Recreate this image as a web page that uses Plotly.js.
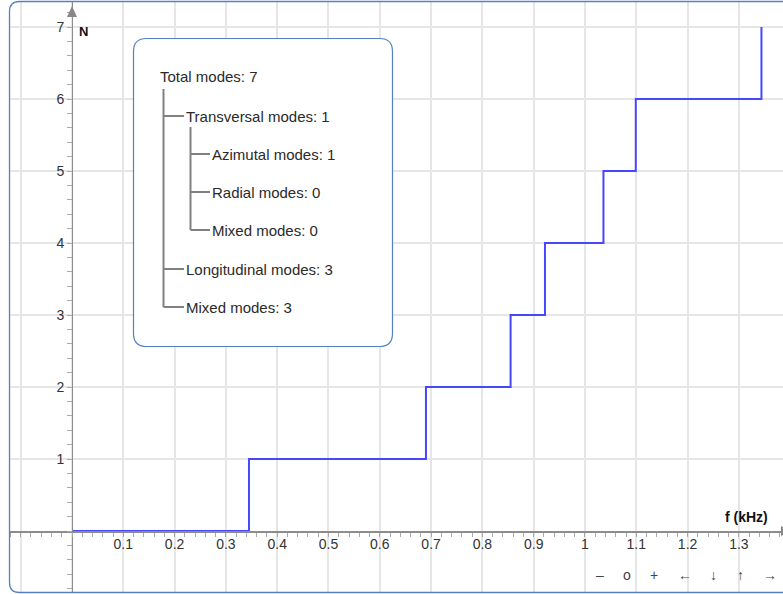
<!DOCTYPE html>
<html>
<head>
<meta charset="utf-8">
<script src="https://cdn.plot.ly/plotly-3.0.1.min.js"></script>
<style>html,body{margin:0;padding:0;background:#fff;}#chart{width:783px;height:594px;}</style>
</head>
<body>
<div id="chart"></div>
<script>
// ---- data ----
const freqSteps = [0, 0.345, 0.690, 0.855, 0.922, 1.036, 1.099, 1.344]; // f (kHz) where N steps
const modeCount = [0, 1, 2, 3, 4, 5, 6, 7];                            // N
const xTickVals = [-0.1, 0, 0.1, 0.2, 0.3, 0.4, 0.5, 0.6, 0.7, 0.8, 0.9, 1.0, 1.1, 1.2, 1.3];
const xTickText = ['', '', '0.1', '0.2', '0.3', '0.4', '0.5', '0.6', '0.7', '0.8', '0.9', '1', '1.1', '1.2', '1.3'];
const yTickVals = [1, 2, 3, 4, 5, 6, 7];
const yTickText = ['1', '2', '3', '4', '5', '6', '7'];
const treeLabels = ['Total modes: 7', 'Transversal modes: 1', 'Azimutal modes: 1', 'Radial modes: 0',
                    'Mixed modes: 0', 'Longitudinal modes: 3', 'Mixed modes: 3'];
const treeLevels = [0, 1, 2, 2, 2, 1, 1];
const navLabels = ['–', 'o', '+', '←', '↓', '↑', '→'];

// ---- layout helpers (pixel -> paper) ----
const FW = 783, FH = 594;
const ML = 9, MT = 1, MB = 2, MR = 0;
const PW = FW - ML - MR, PH = FH - MT - MB;
const xRange = [-0.1228, 1.3860];
const yRange = [-0.8472, 7.3611];
const px = x => (x - ML) / PW;
const py = y => (MT + PH - y) / PH;
const pt = (x, y) => px(x).toFixed(5) + ',' + py(y).toFixed(5);

const frameColor = '#5481c2';
const treeColor = '#808080';
const shapes = [];
// corner masks
shapes.push({type:'path', xref:'paper', yref:'paper', layer:'above', line:{width:0}, fillcolor:'#fff',
  path:'M'+pt(0,0)+' L'+pt(20,0)+' L'+pt(20,1.5)+' Q'+pt(9.5,1.5)+' '+pt(9.5,11.5)+' L'+pt(0,11.5)+' Z'});
shapes.push({type:'path', xref:'paper', yref:'paper', layer:'above', line:{width:0}, fillcolor:'#fff',
  path:'M'+pt(0,594)+' L'+pt(20,594)+' L'+pt(20,592.5)+' Q'+pt(9.5,592.5)+' '+pt(9.5,582.5)+' L'+pt(0,582.5)+' Z'});
// frame
shapes.push({type:'path', xref:'paper', yref:'paper', layer:'above', line:{color:frameColor, width:1.3},
  path:'M'+pt(800,1.5)+' L'+pt(19.5,1.5)+' Q'+pt(9.5,1.5)+' '+pt(9.5,11.5)+' L'+pt(9.5,582.5)+
       ' Q'+pt(9.5,592.5)+' '+pt(19.5,592.5)+' L'+pt(800,592.5)});
// axis arrows
shapes.push({type:'path', xref:'paper', yref:'paper', layer:'above', line:{width:0}, fillcolor:'#888',
  path:'M'+pt(67,17)+' L'+pt(72,6)+' L'+pt(77,17)+' Z'});
shapes.push({type:'path', xref:'paper', yref:'paper', layer:'above', line:{width:0}, fillcolor:'#888',
  path:'M'+pt(781,526)+' L'+pt(792,531)+' L'+pt(781,536)+' Z'});
// tree box
const bx0 = 133.5, by0 = 38.5, bx1 = 392.5, by1 = 346.5, r = 13;
shapes.push({type:'path', xref:'paper', yref:'paper', layer:'above', line:{color:frameColor, width:1.2}, fillcolor:'#fff',
  path:'M'+pt(bx0+r,by0)+' L'+pt(bx1-r,by0)+' Q'+pt(bx1,by0)+' '+pt(bx1,by0+r)+' L'+pt(bx1,by1-r)+
       ' Q'+pt(bx1,by1)+' '+pt(bx1-r,by1)+' L'+pt(bx0+r,by1)+' Q'+pt(bx0,by1)+' '+pt(bx0,by1-r)+
       ' L'+pt(bx0,by0+r)+' Q'+pt(bx0,by0)+' '+pt(bx0+r,by0)+' Z'});

// tree text rows
const rowY = [76.5, 116, 154, 192, 230, 269, 307];
const levelX = [160, 185.5, 211.5];
const trunkX = [163.5, 190.5];
const annotations = [];
treeLabels.forEach((t, i) => {
  annotations.push({xref:'paper', yref:'paper', x:px(levelX[treeLevels[i]] - 2), y:py(rowY[i]),
    text:t, showarrow:false, xanchor:'left', yanchor:'middle',
    font:{family:'Liberation Sans, Arial, sans-serif', size:15, color:'#2a2a2a'}});
});
function seg(x0, y0, x1, y1) {
  shapes.push({type:'line', xref:'paper', yref:'paper', layer:'above',
    x0:px(x0), y0:py(y0), x1:px(x1), y1:py(y1), line:{color:treeColor, width:2}});
}
seg(trunkX[0], 89, trunkX[0], 307);
seg(trunkX[1], 127, trunkX[1], 230);
treeLevels.forEach((lv, i) => {
  if (lv === 1) seg(trunkX[0], rowY[i], 184, rowY[i]);
  if (lv === 2) seg(trunkX[1], rowY[i], 210, rowY[i]);
});

// axis names
annotations.push({xref:'paper', yref:'paper', x:px(77), y:py(31.5), text:'<b>N</b>', showarrow:false,
  xanchor:'left', yanchor:'middle', font:{family:'Liberation Sans, Arial, sans-serif', size:13, color:'#111'}});
annotations.push({xref:'paper', yref:'paper', x:px(770), y:py(516.5), text:'<b>f (kHz)</b>', showarrow:false,
  xanchor:'right', yanchor:'middle', font:{family:'Liberation Sans, Arial, sans-serif', size:14, color:'#111'}});
// navigation bar
const navX = [600, 627, 654, 684.5, 713.5, 740, 770];
navLabels.forEach((t, i) => {
  annotations.push({xref:'paper', yref:'paper', x:px(navX[i]), y:py(575), text:t, showarrow:false,
    xanchor:'center', yanchor:'middle', font:{family:'Liberation Sans, Arial, sans-serif', size:14, color:'#444'}});
});

const trace = {
  x: freqSteps, y: modeCount, type:'scatter', mode:'lines',
  line:{shape:'hv', color:'rgb(70,70,255)', width:2},
  hoverinfo:'x+y', showlegend:false, cliponaxis:false
};

const axisCommon = {
  showgrid:true, gridcolor:'#e6e6e6', gridwidth:2, zeroline:false,
  showline:true, linecolor:'#8c8c8c', linewidth:1.5,
  ticks:'outside', ticklen:4, tickcolor:'#aaa', tickwidth:1,
  tickfont:{family:'Liberation Sans, Arial, sans-serif', size:14, color:'#333'},
  tickmode:'array', fixedrange:true, automargin:false
};

const layout = {
  width:FW, height:FH,
  margin:{l:ML, r:MR, t:MT, b:MB, pad:0},
  paper_bgcolor:'#fff', plot_bgcolor:'#fff',
  showlegend:false,
  xaxis:Object.assign({}, axisCommon, {
    range:xRange, tickvals:xTickVals, ticktext:xTickText, ticklabelstandoff:-4,
    anchor:'free', position:(0 - yRange[0]) / (yRange[1] - yRange[0]), side:'bottom',
    minor:{tickmode:'linear', tick0:0, dtick:0.02, ticks:'outside', ticklen:4, tickcolor:'#aaa', showgrid:false}
  }),
  yaxis:Object.assign({}, axisCommon, {
    range:yRange, tickvals:yTickVals, ticktext:yTickText, ticklen:5,
    anchor:'free', position:(0 - xRange[0]) / (xRange[1] - xRange[0]), side:'left',
    minor:{tickmode:'linear', tick0:0, dtick:0.2, ticks:'outside', ticklen:5, tickcolor:'#aaa', showgrid:false}
  }),
  shapes:shapes,
  annotations:annotations
};

Plotly.newPlot('chart', [trace], layout, {displayModeBar:false, staticPlot:true});
</script>
</body>
</html>
